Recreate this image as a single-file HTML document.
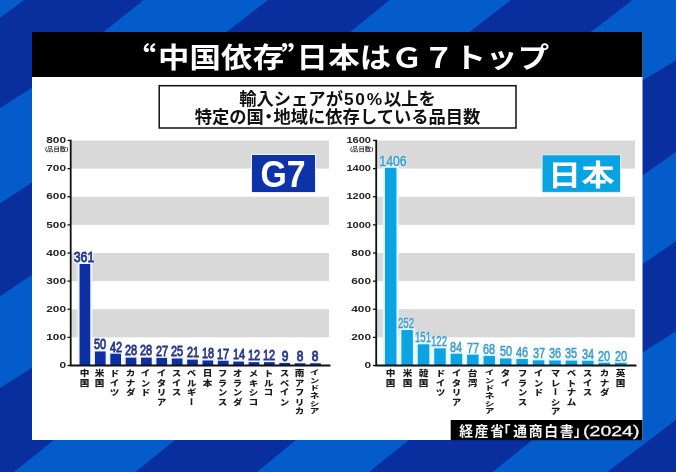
<!DOCTYPE html>
<html lang="ja"><head><meta charset="utf-8"><title>“中国依存”日本はG7トップ</title>
<style>
html,body{margin:0;padding:0;background:#092f9f;}
body{width:676px;height:472px;overflow:hidden;position:relative;font-family:"Liberation Sans","Noto Sans CJK JP",sans-serif;}
#stage{position:absolute;left:0;top:0;width:676px;height:472px;overflow:hidden;}
#soft{position:absolute;left:0;top:0;width:676px;height:472px;filter:blur(0.45px);}
svg{position:absolute;left:0;top:0;display:block;}
.abs{position:absolute;white-space:nowrap;line-height:1;}
.title{color:#fff;font-weight:700;font-size:28px;letter-spacing:0.2px;transform-origin:0 50%;transform:scaleX(1.12);}
.q{font-family:"Noto Sans CJK JP",sans-serif;font-feature-settings:"fwid";}
.sub{color:#111;font-weight:700;font-size:17.3px;text-align:center;}
.sub i{font-style:normal;letter-spacing:1.8px;margin-left:1px;}
.sub b{font-weight:700;margin:0 -0.22em;}
.tick{color:#262626;font-weight:700;font-size:9.9px;text-align:right;transform-origin:100% 50%;transform:scaleX(1.2);}
.unit{color:#3a3a3a;font-weight:700;font-size:5.4px;transform-origin:0 50%;transform:scaleX(1.18);}
.val{font-weight:400;font-size:14.6px;text-align:center;transform-origin:50% 100%;}
.v1{-webkit-text-stroke:0.8px #25368a;color:#25368a;text-shadow:1px 0 0 #f4f6ff,-1px 0 0 #f4f6ff,0 1px 0 #f4f6ff,0 -1px 0 #f4f6ff,1px 1px 0 #f4f6ff,-1px -1px 0 #f4f6ff,1px -1px 0 #f4f6ff,-1px 1px 0 #f4f6ff,0 0 2px #fff,0 0 3px #fff;}
.v2{-webkit-text-stroke:0.45px #3a9ccb;color:#3a9ccb;text-shadow:0 0 1px rgba(228,246,255,0.9),0 0 1.5px rgba(228,246,255,0.9),0 0 2px rgba(228,246,255,0.8),0 1px 2px rgba(235,248,255,0.8);}
.cat{writing-mode:vertical-rl;color:#1c1c1c;font-weight:900;font-size:8.4px;letter-spacing:1.0px;line-height:1;transform-origin:50% 0;}
.leg{color:#fff;font-weight:700;text-align:center;}
.src{color:#f4f4f4;font-weight:700;font-size:13.8px;letter-spacing:1.7px;}
.src .br{display:inline-block;width:7.5px;letter-spacing:0;}
.src .b2{text-indent:-9px;}
.src .b3{text-indent:-1.5px;}
.src .yr{display:inline-block;letter-spacing:0;font-weight:400;font-size:15.4px;transform-origin:0 50%;transform:scaleX(1.27);margin-left:0px;position:relative;top:0.6px;-webkit-text-stroke:0.3px #f4f4f4;}

</style></head><body><div id="stage"><div id="soft">
<svg width="716" height="512" viewBox="-20 -20 716 512" style="left:-20px;top:-20px;">
<rect x="-20" y="-20" width="716" height="512" fill="#092f9f"/>
<polygon points="-30.0,-30.0 48.0,-18.0 24.0,0.0 0.0,18.0 -24.0,36.0" fill="#045bca"/>
<polygon points="167.3,-18.7 143.8,0.0 103.5,32.0 32.0,87.8 0.0,108.1 -25.3,124.2 -25.0,220.1 0.0,203.6 32.0,182.5 226.6,32.0 268.0,0.0 291.7,-18.3" fill="#045bca"/>
<polygon points="412.8,-18.9 389.5,0.0 350.2,32.0 32.0,274.7 0.0,296.3 -24.9,313.1 -25.3,404.2 0.0,388.1 32.0,367.8 469.5,32.0 510.9,0.0 534.6,-18.3" fill="#045bca"/>
<polygon points="656.3,-18.3 632.5,0.0 591.0,32.0 53.8,440.0 14.0,472.0 -9.4,490.8 112.2,490.9 135.5,472.0 174.9,440.0 642.5,80.6 676.0,60.3 701.7,44.8 706.0,-30.0" fill="#045bca"/>
<polygon points="700.4,134.3 676.0,151.7 642.5,175.6 295.9,440.0 257.1,472.0 234.0,491.1 345.6,490.8 369.0,472.0 408.8,440.0 642.5,264.1 676.0,241.2 700.8,224.3" fill="#045bca"/>
<polygon points="701.3,315.2 676.0,331.3 642.5,352.6 532.5,440.0 492.6,472.0 469.2,490.8 583.3,490.1 607.2,472.0 642.5,445.2 676.0,419.8 699.9,401.7" fill="#045bca"/>
<rect x="32" y="32" width="610.5" height="408" fill="#fff"/>
<rect x="32" y="32" width="610.5" height="45" fill="#000"/>
<rect x="159.2" y="85.7" width="356.8" height="42.3" fill="#fff" stroke="#111" stroke-width="1.5"/>
<rect x="70.7" y="140.50" width="258.3" height="28.12" fill="#d9d9d9"/>
<rect x="70.7" y="196.75" width="258.3" height="28.12" fill="#d9d9d9"/>
<rect x="70.7" y="253.00" width="258.3" height="28.12" fill="#d9d9d9"/>
<rect x="70.7" y="309.25" width="258.3" height="28.12" fill="#d9d9d9"/>
<rect x="79.55" y="263.97" width="10.70" height="101.53" fill="#f4f6ff" stroke="#f4f6ff" stroke-width="6" stroke-opacity="0.3"/>
<rect x="79.55" y="263.97" width="10.70" height="101.53" fill="#0c30a4" stroke="#f4f6ff" stroke-width="3.6" paint-order="stroke"/>
<rect x="94.92" y="351.44" width="10.70" height="14.06" fill="#f4f6ff" stroke="#f4f6ff" stroke-width="6" stroke-opacity="0.3"/>
<rect x="94.92" y="351.44" width="10.70" height="14.06" fill="#0c30a4" stroke="#f4f6ff" stroke-width="3.6" paint-order="stroke"/>
<rect x="110.29" y="353.69" width="10.70" height="11.81" fill="#f4f6ff" stroke="#f4f6ff" stroke-width="6" stroke-opacity="0.3"/>
<rect x="110.29" y="353.69" width="10.70" height="11.81" fill="#0c30a4" stroke="#f4f6ff" stroke-width="3.6" paint-order="stroke"/>
<rect x="125.66" y="357.62" width="10.70" height="7.88" fill="#f4f6ff" stroke="#f4f6ff" stroke-width="6" stroke-opacity="0.3"/>
<rect x="125.66" y="357.62" width="10.70" height="7.88" fill="#0c30a4" stroke="#f4f6ff" stroke-width="3.6" paint-order="stroke"/>
<rect x="141.03" y="357.62" width="10.70" height="7.88" fill="#f4f6ff" stroke="#f4f6ff" stroke-width="6" stroke-opacity="0.3"/>
<rect x="141.03" y="357.62" width="10.70" height="7.88" fill="#0c30a4" stroke="#f4f6ff" stroke-width="3.6" paint-order="stroke"/>
<rect x="156.40" y="357.91" width="10.70" height="7.59" fill="#f4f6ff" stroke="#f4f6ff" stroke-width="6" stroke-opacity="0.3"/>
<rect x="156.40" y="357.91" width="10.70" height="7.59" fill="#0c30a4" stroke="#f4f6ff" stroke-width="3.6" paint-order="stroke"/>
<rect x="171.77" y="358.47" width="10.70" height="7.03" fill="#f4f6ff" stroke="#f4f6ff" stroke-width="6" stroke-opacity="0.3"/>
<rect x="171.77" y="358.47" width="10.70" height="7.03" fill="#0c30a4" stroke="#f4f6ff" stroke-width="3.6" paint-order="stroke"/>
<rect x="187.14" y="359.59" width="10.70" height="5.91" fill="#f4f6ff" stroke="#f4f6ff" stroke-width="6" stroke-opacity="0.3"/>
<rect x="187.14" y="359.59" width="10.70" height="5.91" fill="#0c30a4" stroke="#f4f6ff" stroke-width="3.6" paint-order="stroke"/>
<rect x="202.51" y="360.44" width="10.70" height="5.06" fill="#f4f6ff" stroke="#f4f6ff" stroke-width="6" stroke-opacity="0.3"/>
<rect x="202.51" y="360.44" width="10.70" height="5.06" fill="#0c30a4" stroke="#f4f6ff" stroke-width="3.6" paint-order="stroke"/>
<rect x="217.88" y="360.72" width="10.70" height="4.78" fill="#f4f6ff" stroke="#f4f6ff" stroke-width="6" stroke-opacity="0.3"/>
<rect x="217.88" y="360.72" width="10.70" height="4.78" fill="#0c30a4" stroke="#f4f6ff" stroke-width="3.6" paint-order="stroke"/>
<rect x="233.25" y="361.56" width="10.70" height="3.94" fill="#f4f6ff" stroke="#f4f6ff" stroke-width="6" stroke-opacity="0.3"/>
<rect x="233.25" y="361.56" width="10.70" height="3.94" fill="#0c30a4" stroke="#f4f6ff" stroke-width="3.6" paint-order="stroke"/>
<rect x="248.62" y="362.12" width="10.70" height="3.38" fill="#f4f6ff" stroke="#f4f6ff" stroke-width="6" stroke-opacity="0.3"/>
<rect x="248.62" y="362.12" width="10.70" height="3.38" fill="#0c30a4" stroke="#f4f6ff" stroke-width="3.6" paint-order="stroke"/>
<rect x="263.99" y="362.12" width="10.70" height="3.38" fill="#f4f6ff" stroke="#f4f6ff" stroke-width="6" stroke-opacity="0.3"/>
<rect x="263.99" y="362.12" width="10.70" height="3.38" fill="#0c30a4" stroke="#f4f6ff" stroke-width="3.6" paint-order="stroke"/>
<rect x="279.36" y="362.97" width="10.70" height="2.53" fill="#f4f6ff" stroke="#f4f6ff" stroke-width="6" stroke-opacity="0.3"/>
<rect x="279.36" y="362.97" width="10.70" height="2.53" fill="#0c30a4" stroke="#f4f6ff" stroke-width="3.6" paint-order="stroke"/>
<rect x="294.73" y="363.25" width="10.70" height="2.25" fill="#f4f6ff" stroke="#f4f6ff" stroke-width="6" stroke-opacity="0.3"/>
<rect x="294.73" y="363.25" width="10.70" height="2.25" fill="#0c30a4" stroke="#f4f6ff" stroke-width="3.6" paint-order="stroke"/>
<rect x="310.10" y="363.25" width="10.70" height="2.25" fill="#f4f6ff" stroke="#f4f6ff" stroke-width="6" stroke-opacity="0.3"/>
<rect x="310.10" y="363.25" width="10.70" height="2.25" fill="#0c30a4" stroke="#f4f6ff" stroke-width="3.6" paint-order="stroke"/>
<path d="M70.7 139.8 V365.5 H330.5" fill="none" stroke="#111" stroke-width="1.8"/>
<path d="M67.5 140.50 H70.7" stroke="#111" stroke-width="1.3"/>
<path d="M67.5 168.62 H70.7" stroke="#111" stroke-width="1.3"/>
<path d="M67.5 196.75 H70.7" stroke="#111" stroke-width="1.3"/>
<path d="M67.5 224.88 H70.7" stroke="#111" stroke-width="1.3"/>
<path d="M67.5 253.00 H70.7" stroke="#111" stroke-width="1.3"/>
<path d="M67.5 281.12 H70.7" stroke="#111" stroke-width="1.3"/>
<path d="M67.5 309.25 H70.7" stroke="#111" stroke-width="1.3"/>
<path d="M67.5 337.38 H70.7" stroke="#111" stroke-width="1.3"/>
<path d="M67.5 365.50 H70.7" stroke="#111" stroke-width="1.3"/>
<rect x="376.2" y="140.50" width="258.8" height="28.12" fill="#d9d9d9"/>
<rect x="376.2" y="196.75" width="258.8" height="28.12" fill="#d9d9d9"/>
<rect x="376.2" y="253.00" width="258.8" height="28.12" fill="#d9d9d9"/>
<rect x="376.2" y="309.25" width="258.8" height="28.12" fill="#d9d9d9"/>
<rect x="384.95" y="167.78" width="11.50" height="197.72" fill="#e6f7ff" stroke="#e6f7ff" stroke-width="6" stroke-opacity="0.3"/>
<rect x="384.95" y="167.78" width="11.50" height="197.72" fill="#0ba3e1" stroke="#e6f7ff" stroke-width="3.6" paint-order="stroke"/>
<rect x="401.38" y="330.06" width="11.50" height="35.44" fill="#e6f7ff" stroke="#e6f7ff" stroke-width="6" stroke-opacity="0.3"/>
<rect x="401.38" y="330.06" width="11.50" height="35.44" fill="#0ba3e1" stroke="#e6f7ff" stroke-width="3.6" paint-order="stroke"/>
<rect x="417.81" y="344.27" width="11.50" height="21.23" fill="#e6f7ff" stroke="#e6f7ff" stroke-width="6" stroke-opacity="0.3"/>
<rect x="417.81" y="344.27" width="11.50" height="21.23" fill="#0ba3e1" stroke="#e6f7ff" stroke-width="3.6" paint-order="stroke"/>
<rect x="434.24" y="348.34" width="11.50" height="17.16" fill="#e6f7ff" stroke="#e6f7ff" stroke-width="6" stroke-opacity="0.3"/>
<rect x="434.24" y="348.34" width="11.50" height="17.16" fill="#0ba3e1" stroke="#e6f7ff" stroke-width="3.6" paint-order="stroke"/>
<rect x="450.67" y="353.69" width="11.50" height="11.81" fill="#e6f7ff" stroke="#e6f7ff" stroke-width="6" stroke-opacity="0.3"/>
<rect x="450.67" y="353.69" width="11.50" height="11.81" fill="#0ba3e1" stroke="#e6f7ff" stroke-width="3.6" paint-order="stroke"/>
<rect x="467.10" y="354.67" width="11.50" height="10.83" fill="#e6f7ff" stroke="#e6f7ff" stroke-width="6" stroke-opacity="0.3"/>
<rect x="467.10" y="354.67" width="11.50" height="10.83" fill="#0ba3e1" stroke="#e6f7ff" stroke-width="3.6" paint-order="stroke"/>
<rect x="483.53" y="355.94" width="11.50" height="9.56" fill="#e6f7ff" stroke="#e6f7ff" stroke-width="6" stroke-opacity="0.3"/>
<rect x="483.53" y="355.94" width="11.50" height="9.56" fill="#0ba3e1" stroke="#e6f7ff" stroke-width="3.6" paint-order="stroke"/>
<rect x="499.96" y="358.47" width="11.50" height="7.03" fill="#e6f7ff" stroke="#e6f7ff" stroke-width="6" stroke-opacity="0.3"/>
<rect x="499.96" y="358.47" width="11.50" height="7.03" fill="#0ba3e1" stroke="#e6f7ff" stroke-width="3.6" paint-order="stroke"/>
<rect x="516.39" y="359.03" width="11.50" height="6.47" fill="#e6f7ff" stroke="#e6f7ff" stroke-width="6" stroke-opacity="0.3"/>
<rect x="516.39" y="359.03" width="11.50" height="6.47" fill="#0ba3e1" stroke="#e6f7ff" stroke-width="3.6" paint-order="stroke"/>
<rect x="532.82" y="360.30" width="11.50" height="5.20" fill="#e6f7ff" stroke="#e6f7ff" stroke-width="6" stroke-opacity="0.3"/>
<rect x="532.82" y="360.30" width="11.50" height="5.20" fill="#0ba3e1" stroke="#e6f7ff" stroke-width="3.6" paint-order="stroke"/>
<rect x="549.25" y="360.44" width="11.50" height="5.06" fill="#e6f7ff" stroke="#e6f7ff" stroke-width="6" stroke-opacity="0.3"/>
<rect x="549.25" y="360.44" width="11.50" height="5.06" fill="#0ba3e1" stroke="#e6f7ff" stroke-width="3.6" paint-order="stroke"/>
<rect x="565.68" y="360.58" width="11.50" height="4.92" fill="#e6f7ff" stroke="#e6f7ff" stroke-width="6" stroke-opacity="0.3"/>
<rect x="565.68" y="360.58" width="11.50" height="4.92" fill="#0ba3e1" stroke="#e6f7ff" stroke-width="3.6" paint-order="stroke"/>
<rect x="582.11" y="360.72" width="11.50" height="4.78" fill="#e6f7ff" stroke="#e6f7ff" stroke-width="6" stroke-opacity="0.3"/>
<rect x="582.11" y="360.72" width="11.50" height="4.78" fill="#0ba3e1" stroke="#e6f7ff" stroke-width="3.6" paint-order="stroke"/>
<rect x="598.54" y="362.69" width="11.50" height="2.81" fill="#e6f7ff" stroke="#e6f7ff" stroke-width="6" stroke-opacity="0.3"/>
<rect x="598.54" y="362.69" width="11.50" height="2.81" fill="#0ba3e1" stroke="#e6f7ff" stroke-width="3.6" paint-order="stroke"/>
<rect x="614.97" y="362.69" width="11.50" height="2.81" fill="#e6f7ff" stroke="#e6f7ff" stroke-width="6" stroke-opacity="0.3"/>
<rect x="614.97" y="362.69" width="11.50" height="2.81" fill="#0ba3e1" stroke="#e6f7ff" stroke-width="3.6" paint-order="stroke"/>
<path d="M376.2 139.8 V365.5 H636.5" fill="none" stroke="#111" stroke-width="1.8"/>
<path d="M373.0 140.50 H376.2" stroke="#111" stroke-width="1.3"/>
<path d="M373.0 168.62 H376.2" stroke="#111" stroke-width="1.3"/>
<path d="M373.0 196.75 H376.2" stroke="#111" stroke-width="1.3"/>
<path d="M373.0 224.88 H376.2" stroke="#111" stroke-width="1.3"/>
<path d="M373.0 253.00 H376.2" stroke="#111" stroke-width="1.3"/>
<path d="M373.0 281.12 H376.2" stroke="#111" stroke-width="1.3"/>
<path d="M373.0 309.25 H376.2" stroke="#111" stroke-width="1.3"/>
<path d="M373.0 337.38 H376.2" stroke="#111" stroke-width="1.3"/>
<path d="M373.0 365.50 H376.2" stroke="#111" stroke-width="1.3"/>
<rect x="252" y="155" width="63" height="37" fill="#0c33a8" stroke="#eef1fb" stroke-width="2" paint-order="stroke"/>
<rect x="542.6" y="155.3" width="77.4" height="36.6" fill="#08a3e1" stroke="#d8eef8" stroke-width="2" paint-order="stroke"/>
<rect x="450.7" y="420" width="191.7" height="20.2" fill="#000"/>
</svg>
<div class="abs title" style="left:141.5px;top:41.5px;"><span class="q" style="margin-left:-15.3px;margin-right:1.3px;">“</span>中国依存<span class="q" style="margin-left:-2.7px;margin-right:-14.5px;">”</span>日本はＧ７トップ</div>
<div class="abs sub" style="left:160px;width:355px;top:90px;line-height:18.2px;">輸入シェアが<i>50%</i>以上を<br>特定の国<b>・</b>地域に依存している品目数</div>
<div class="abs tick" style="left:25.7px;width:40px;top:135.2px;">800</div>
<div class="abs tick" style="left:25.7px;width:40px;top:163.3px;">700</div>
<div class="abs tick" style="left:25.7px;width:40px;top:191.4px;">600</div>
<div class="abs tick" style="left:25.7px;width:40px;top:219.6px;">500</div>
<div class="abs tick" style="left:25.7px;width:40px;top:247.7px;">400</div>
<div class="abs tick" style="left:25.7px;width:40px;top:275.8px;">300</div>
<div class="abs tick" style="left:25.7px;width:40px;top:303.9px;">200</div>
<div class="abs tick" style="left:25.7px;width:40px;top:332.1px;">100</div>
<div class="abs tick" style="left:25.7px;width:40px;top:360.2px;">0</div>
<div class="abs unit" style="left:44.7px;top:146.8px;">(品目数)</div>
<div class="abs val v1" style="left:64.2px;width:40px;top:249.8px;transform:scaleX(0.85);">361</div>
<div class="abs cat" style="left:78.7px;top:369.0px;transform:scale(1.15,1.000);">中国</div>
<div class="abs val v1" style="left:80.3px;width:40px;top:337.2px;transform:scaleX(0.75);">50</div>
<div class="abs cat" style="left:94.1px;top:369.0px;transform:scale(1.15,1.000);">米国</div>
<div class="abs val v1" style="left:95.6px;width:40px;top:339.5px;transform:scaleX(0.75);">42</div>
<div class="abs cat" style="left:109.4px;top:369.0px;transform:scale(1.15,1.000);">ドイツ</div>
<div class="abs val v1" style="left:111.0px;width:40px;top:343.4px;transform:scaleX(0.75);">28</div>
<div class="abs cat" style="left:124.8px;top:369.0px;transform:scale(1.15,1.000);">カナダ</div>
<div class="abs val v1" style="left:126.4px;width:40px;top:343.4px;transform:scaleX(0.75);">28</div>
<div class="abs cat" style="left:140.2px;top:369.0px;transform:scale(1.15,1.000);">インド</div>
<div class="abs val v1" style="left:141.8px;width:40px;top:343.7px;transform:scaleX(0.75);">27</div>
<div class="abs cat" style="left:155.6px;top:369.0px;transform:scale(1.15,1.000);">イタリア</div>
<div class="abs val v1" style="left:157.1px;width:40px;top:344.3px;transform:scaleX(0.75);">25</div>
<div class="abs cat" style="left:170.9px;top:369.0px;transform:scale(1.15,1.000);">スイス</div>
<div class="abs val v1" style="left:172.5px;width:40px;top:345.4px;transform:scaleX(0.75);">21</div>
<div class="abs cat" style="left:186.3px;top:369.0px;transform:scale(1.15,1.000);">ベルギー</div>
<div class="abs val v1" style="left:187.9px;width:40px;top:346.2px;transform:scaleX(0.75);">18</div>
<div class="abs cat" style="left:201.7px;top:369.0px;transform:scale(1.15,1.000);">日本</div>
<div class="abs val v1" style="left:203.2px;width:40px;top:346.5px;transform:scaleX(0.75);">17</div>
<div class="abs cat" style="left:217.0px;top:369.0px;transform:scale(1.15,1.000);">フランス</div>
<div class="abs val v1" style="left:218.6px;width:40px;top:347.4px;transform:scaleX(0.75);">14</div>
<div class="abs cat" style="left:232.4px;top:369.0px;transform:scale(1.15,1.000);">オランダ</div>
<div class="abs val v1" style="left:234.0px;width:40px;top:347.9px;transform:scaleX(0.75);">12</div>
<div class="abs cat" style="left:247.8px;top:369.0px;transform:scale(1.15,1.000);">メキシコ</div>
<div class="abs val v1" style="left:249.3px;width:40px;top:347.9px;transform:scaleX(0.75);">12</div>
<div class="abs cat" style="left:263.1px;top:369.0px;transform:scale(1.15,1.000);">トルコ</div>
<div class="abs val v1" style="left:264.7px;width:40px;top:348.8px;transform:scaleX(0.82);">9</div>
<div class="abs cat" style="left:278.5px;top:369.0px;transform:scale(1.15,1.000);">スペイン</div>
<div class="abs val v1" style="left:280.1px;width:40px;top:349.1px;transform:scaleX(0.82);">8</div>
<div class="abs cat" style="left:293.9px;top:369.0px;transform:scale(1.15,1.000);">南アフリカ</div>
<div class="abs val v1" style="left:295.4px;width:40px;top:349.1px;transform:scaleX(0.82);">8</div>
<div class="abs cat" style="left:309.2px;top:369.0px;transform:scale(1.15,0.816);">インドネシア</div>
<div class="abs tick" style="left:331.2px;width:40px;top:135.2px;transform:scaleX(1.12);">1600</div>
<div class="abs tick" style="left:331.2px;width:40px;top:163.3px;transform:scaleX(1.12);">1400</div>
<div class="abs tick" style="left:331.2px;width:40px;top:191.4px;transform:scaleX(1.12);">1200</div>
<div class="abs tick" style="left:331.2px;width:40px;top:219.6px;transform:scaleX(1.12);">1000</div>
<div class="abs tick" style="left:331.2px;width:40px;top:247.7px;">800</div>
<div class="abs tick" style="left:331.2px;width:40px;top:275.8px;">600</div>
<div class="abs tick" style="left:331.2px;width:40px;top:303.9px;">400</div>
<div class="abs tick" style="left:331.2px;width:40px;top:332.1px;">200</div>
<div class="abs tick" style="left:331.2px;width:40px;top:360.2px;">0</div>
<div class="abs unit" style="left:350.2px;top:146.8px;">(品目数)</div>
<div class="abs val v2" style="left:372.6px;width:40px;top:153.6px;transform:scaleX(0.84);">1406</div>
<div class="abs cat" style="left:385.2px;top:369.0px;transform:scale(1.15,1.000);">中国</div>
<div class="abs val v2" style="left:386.4px;width:40px;top:315.9px;transform:scaleX(0.66);">252</div>
<div class="abs cat" style="left:401.6px;top:369.0px;transform:scale(1.15,1.000);">米国</div>
<div class="abs val v2" style="left:402.9px;width:40px;top:330.1px;transform:scaleX(0.66);">151</div>
<div class="abs cat" style="left:418.1px;top:369.0px;transform:scale(1.15,1.000);">韓国</div>
<div class="abs val v2" style="left:419.3px;width:40px;top:334.1px;transform:scaleX(0.66);">122</div>
<div class="abs cat" style="left:434.5px;top:369.0px;transform:scale(1.15,1.000);">ドイツ</div>
<div class="abs val v2" style="left:436.4px;width:40px;top:339.5px;transform:scaleX(0.75);">84</div>
<div class="abs cat" style="left:450.9px;top:369.0px;transform:scale(1.15,1.000);">イタリア</div>
<div class="abs val v2" style="left:452.9px;width:40px;top:340.5px;transform:scaleX(0.75);">77</div>
<div class="abs cat" style="left:467.4px;top:369.0px;transform:scale(1.15,1.000);">台湾</div>
<div class="abs val v2" style="left:469.3px;width:40px;top:341.7px;transform:scaleX(0.75);">68</div>
<div class="abs cat" style="left:483.8px;top:369.0px;transform:scale(1.15,0.816);">インドネシア</div>
<div class="abs val v2" style="left:485.7px;width:40px;top:344.3px;transform:scaleX(0.75);">50</div>
<div class="abs cat" style="left:500.2px;top:369.0px;transform:scale(1.15,1.000);">タイ</div>
<div class="abs val v2" style="left:502.1px;width:40px;top:344.8px;transform:scaleX(0.75);">46</div>
<div class="abs cat" style="left:516.6px;top:369.0px;transform:scale(1.15,1.000);">フランス</div>
<div class="abs val v2" style="left:518.6px;width:40px;top:346.1px;transform:scaleX(0.75);">37</div>
<div class="abs cat" style="left:533.1px;top:369.0px;transform:scale(1.15,1.000);">インド</div>
<div class="abs val v2" style="left:535.0px;width:40px;top:346.2px;transform:scaleX(0.75);">36</div>
<div class="abs cat" style="left:549.5px;top:369.0px;transform:scale(1.15,1.000);">マレーシア</div>
<div class="abs val v2" style="left:551.4px;width:40px;top:346.4px;transform:scaleX(0.75);">35</div>
<div class="abs cat" style="left:565.9px;top:369.0px;transform:scale(1.15,1.000);">ベトナム</div>
<div class="abs val v2" style="left:567.9px;width:40px;top:346.5px;transform:scaleX(0.75);">34</div>
<div class="abs cat" style="left:582.4px;top:369.0px;transform:scale(1.15,1.000);">スイス</div>
<div class="abs val v2" style="left:584.3px;width:40px;top:348.5px;transform:scaleX(0.75);">20</div>
<div class="abs cat" style="left:598.8px;top:369.0px;transform:scale(1.15,1.000);">カナダ</div>
<div class="abs val v2" style="left:600.7px;width:40px;top:348.5px;transform:scaleX(0.75);">20</div>
<div class="abs cat" style="left:615.2px;top:369.0px;transform:scale(1.15,1.000);">英国</div>
<div class="abs leg" style="left:252.6px;width:63px;top:156.8px;font-size:36px;"><span style="display:inline-block;transform:scaleX(0.94);margin-left:-3px;">G7</span></div>
<div class="abs leg" style="left:542.6px;width:77.4px;top:161.6px;font-size:29px;"><span style="display:inline-block;transform:scaleX(1.14);letter-spacing:0.4px;margin-right:-0.4px;">日本</span></div>
<div class="abs src" style="left:459.3px;top:422.7px;">経産省<span class="br b2">「</span>通商白書<span class="br b3">」</span><span class="yr">(2024)</span></div>
</div></div></body></html>
